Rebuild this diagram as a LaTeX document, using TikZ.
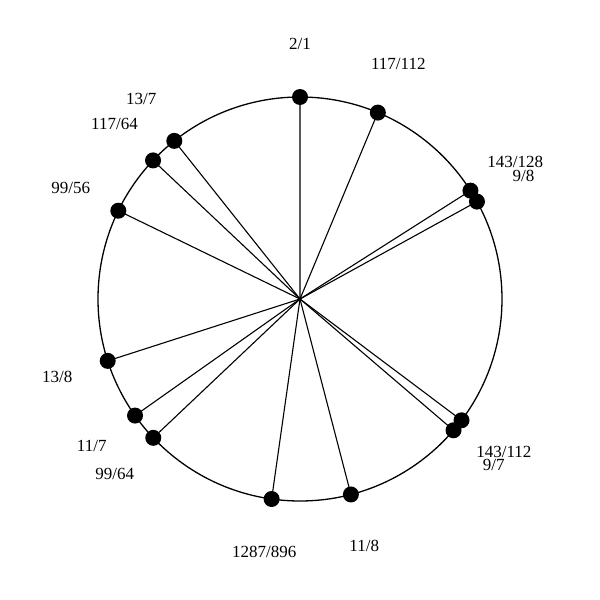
\documentclass[tikz,border=0pt]{standalone}
\usepackage{fontspec}
\setmainfont{Liberation Serif}
\begin{document}
\begin{tikzpicture}[x=1pt,y=1pt,
  dot/.style={circle,fill=black,inner sep=0pt,minimum size=16pt},
  lab/.style={font=\fontsize{17}{20}\selectfont,inner sep=0pt},
  spoke/.style={line width=1.1pt},
  rim/.style={line width=1.3pt}]
\useasboundingbox (-300,-301) rectangle (300,299);
\coordinate (c) at (0,0);
\draw[rim] (c) circle (202);
\foreach \p/\q [count=\i] in {2/1,117/112,143/128,9/8,143/112,9/7,11/8,1287/896,99/64,11/7,13/8,99/56,117/64,13/7} {
  \pgfmathsetmacro\a{90-360*ln(\p/\q)/ln(2)}
  \node[dot] (d\i) at (\a:202) {};
  \draw[spoke] (c) -- (d\i.center);
  \node[lab] (l\i) at (\a:255) {\p/\q};
}
\end{tikzpicture}
\end{document}
